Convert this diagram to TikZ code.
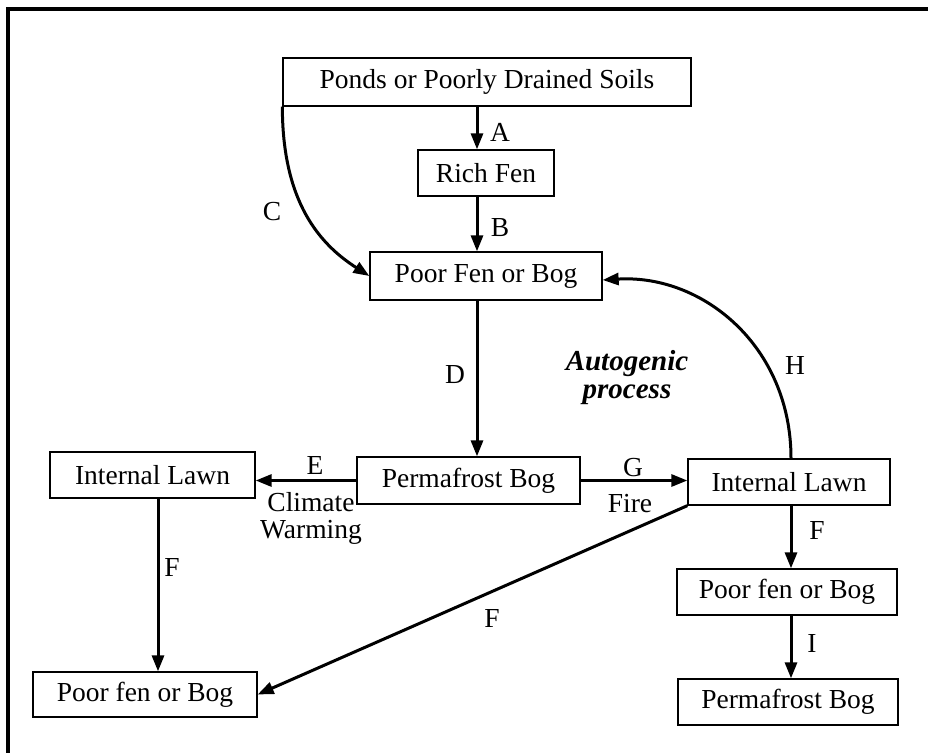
\documentclass[tikz,border=0pt]{standalone}
\usepackage{fontspec}
\setmainfont{Liberation Serif}
\usetikzlibrary{arrows.meta}
\begin{document}
\begin{tikzpicture}[x=1pt,y=-1pt,
  txt/.style={font=\fontsize{27.5}{30}\selectfont},
  box/.style={draw=black, line width=1.3pt, inner sep=0pt, txt},
  flow/.style={line width=3pt, -{Triangle[length=16pt,width=12pt]}},
  lbl/.style={txt, inner sep=0pt},
  note/.style={font=\fontsize{29}{30}\selectfont\bfseries\itshape, inner sep=0pt, anchor=base},
]
\useasboundingbox (0,0) rectangle (928,752);
\clip (0,0) rectangle (928,752);
\fill[white] (0,0) rectangle (928,752);
% outer frame
\draw[line width=3.5pt] (8,780) -- (8,9) -- (960,9);

% columns used by the vertical connectors
\coordinate (colM) at (477,0);
\coordinate (colL) at (158,0);
\coordinate (colR) at (791,0);

% boxes
\node[box, minimum width=408pt, minimum height=48pt] (ponds) at (487,82) {Ponds or Poorly Drained Soils};
\node[box, minimum width=136pt, minimum height=46pt] (rich) at (486,173) {Rich Fen};
\node[box, minimum width=232pt, minimum height=48pt] (poorA) at (486,276) {Poor Fen or Bog};
\node[box, minimum width=223pt, minimum height=47pt] (permA) at (468.5,480.5) {Permafrost Bog};
\node[box, minimum width=205pt, minimum height=46pt] (lawnL) at (152.5,475) {Internal Lawn};
\node[box, minimum width=202pt, minimum height=46pt] (lawnR) at (789,482) {Internal Lawn};
\node[box, minimum width=224pt, minimum height=45pt] (poorL) at (145,694.5) {Poor fen or Bog};
\node[box, minimum width=220pt, minimum height=46pt] (poorR) at (787,592) {Poor fen or Bog};
\node[box, minimum width=220pt, minimum height=46pt] (permR) at (788,702) {Permafrost Bog};

% connectors
\draw[flow] (ponds.south -| colM) -- (rich.north -| colM);
\draw[flow] (rich.south -| colM) -- (poorA.north -| colM);
\draw[flow] (ponds.south west) .. controls +(0,95) and +(-50,-32) .. (poorA.west);
\draw[flow] (poorA.south -| colM) -- (permA.north -| colM);
\draw[flow] (permA.west) -- (lawnL.east |- permA.west);
\draw[flow] (permA.east) -- (lawnR.west |- permA.east);
\draw[flow] (lawnR.north -| colR) .. controls +(0,-112) and +(100,-6) .. ([yshift=-4pt]poorA.east);
\draw[flow] (lawnL.south -| colL) -- (poorL.north -| colL);
\draw[flow] (lawnR.south west) -- (poorL.east);
\draw[flow] (lawnR.south -| colR) -- (poorR.north -| colR);
\draw[flow] (poorR.south -| colR) -- (permR.north -| colR);

% labels
\node[lbl] (lA) at (500,132) {A};
\node[lbl] (lB) at (500,228) {B};
\node[lbl] (lC) at (272,212) {C};
\node[lbl] (lD) at (455,375) {D};
\node[lbl] (lE) at (315,465) {E};
\node[lbl, anchor=base] (lClim) at (311,511) {Climate};
\node[lbl, anchor=base] (lWarm) at (311,538) {Warming};
\node[lbl] (lG) at (633,468) {G};
\node[lbl, anchor=base] (lFire) at (630,512) {Fire};
\node[lbl] (lH) at (795,365) {H};
\node[lbl] (lF1) at (172,567) {F};
\node[lbl] (lF2) at (817,530) {F};
\node[lbl] (lF3) at (492,618) {F};
\node[lbl] (lI) at (812,643) {I};
\node[note] (auto) at (627,370) {Autogenic};
\node[note] (proc) at (627,398) {process};
\end{tikzpicture}
\end{document}
